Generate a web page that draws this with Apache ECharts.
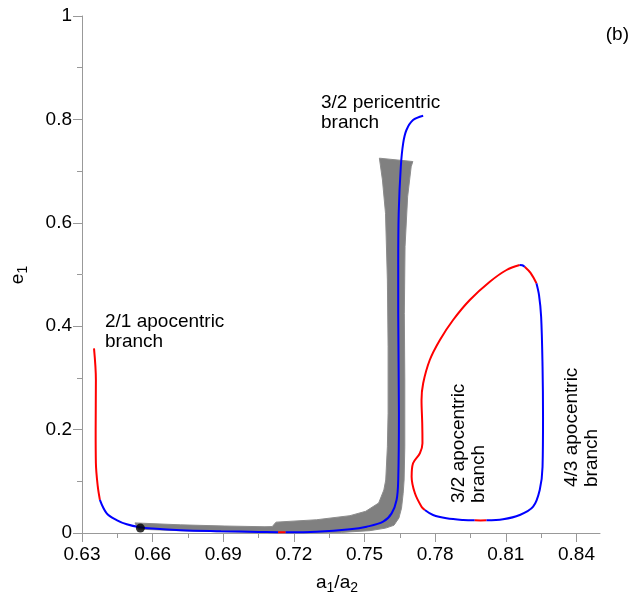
<!DOCTYPE html>
<html>
<head>
<meta charset="utf-8">
<script src="https://cdn.jsdelivr.net/npm/echarts@6/dist/echarts.min.js"></script>
<style>
  html, body { margin: 0; padding: 0; background: #fff; }
  #chart { width: 630px; height: 600px; }
</style>
</head>
<body>
<div id="chart"></div>
<script>
// tick values
const xMajorTicks = [0.63, 0.66, 0.69, 0.72, 0.75, 0.78, 0.81, 0.84];
const xMinorTicks = [0.645, 0.675, 0.705, 0.735, 0.765, 0.795, 0.825];

// 2/1 apocentric branch, red part
const branch21Red = [
  [0.6351, 0.357], [0.6359, 0.296], [0.6358, 0.199], [0.6359, 0.135],
  [0.6367, 0.090], [0.6376, 0.064]
];
// bottom blue part running to the 3/2 pericentric branch
const bottomBlueA = [
  [0.6376, 0.064], [0.6405, 0.038], [0.6447, 0.025], [0.649, 0.0168],
  [0.6546, 0.011], [0.66, 0.0085], [0.672, 0.0055], [0.689, 0.0035],
  [0.705, 0.002], [0.7133, 0.0015]
];
const bottomRed = [[0.7133, 0.0015], [0.7149, 0.0014], [0.7165, 0.0014]];
const pericentric32 = [
  [0.7165, 0.0014], [0.7296, 0.0025], [0.7438, 0.0072], [0.7509, 0.0122],
  [0.7579, 0.0219], [0.7615, 0.038], [0.7636, 0.0638], [0.7643, 0.1025],
  [0.7646, 0.232], [0.7643, 0.425], [0.7643, 0.52], [0.7645, 0.618],
  [0.7654, 0.7085], [0.7664, 0.7537], [0.7678, 0.7795], [0.7706, 0.7988],
  [0.7749, 0.8072]
];

// 3/2 and 4/3 apocentric loop
const loopRedLeft = [
  [0.8159, 0.5184], [0.8103, 0.5087], [0.8032, 0.486], [0.7947, 0.4507],
  [0.7876, 0.412], [0.782, 0.3733], [0.7777, 0.3346], [0.7749, 0.2896],
  [0.7742, 0.2573], [0.7745, 0.2122], [0.7746, 0.1735], [0.7735, 0.1542],
  [0.7706, 0.1348], [0.77, 0.1089], [0.7714, 0.0768], [0.7742, 0.0509],
  [0.7756, 0.0445]
];
const loopBlueBottom = [
  [0.7756, 0.0445], [0.7791, 0.0348], [0.7848, 0.0284], [0.7919, 0.0251],
  [0.7968, 0.0245]
];
const loopRedBottom = [[0.7968, 0.0245], [0.7993, 0.0243], [0.8018, 0.0245]];
const loopBlueRight = [
  [0.8018, 0.0245], [0.8088, 0.0265], [0.8159, 0.0348], [0.8216, 0.0509],
  [0.8244, 0.0832], [0.8256, 0.1283], [0.8258, 0.225], [0.8256, 0.3217],
  [0.8250, 0.4184], [0.8241, 0.46], [0.8230, 0.483]
];
const loopRedTop = [[0.8230, 0.483], [0.8205, 0.503], [0.8180, 0.515]];
const loopBlueTop = [[0.8180, 0.515], [0.8170, 0.5178], [0.8159, 0.5184]];

// grey band of numerical results (outline)
const bandOutline = [
  [0.6525, 0.0195], [0.6719, 0.0158], [0.6907, 0.0135], [0.7077, 0.0121],
  [0.7108, 0.0124], [0.7124, 0.0210], [0.7296, 0.0256], [0.7438, 0.0335],
  [0.7505, 0.0420], [0.7560, 0.0580], [0.7582, 0.0832], [0.7590, 0.1025],
  [0.7597, 0.1669], [0.7600, 0.2315], [0.7600, 0.3604], [0.7597, 0.4894],
  [0.7589, 0.6184], [0.7576, 0.6828], [0.7563, 0.7250], [0.7705, 0.7185],
  [0.7698, 0.7085], [0.7683, 0.6505], [0.7672, 0.5538], [0.7669, 0.4250],
  [0.7671, 0.2959], [0.7671, 0.1669], [0.7668, 0.1025], [0.7664, 0.0768],
  [0.7657, 0.0480], [0.7646, 0.0290], [0.7625, 0.0150], [0.7590, 0.0095],
  [0.7522, 0.0045], [0.7402, 0.0012], [0.7231, 0.0002], [0.7077, 0.0007],
  [0.6907, 0.0022], [0.6719, 0.0044], [0.6539, 0.0074]
];

const startPoint = [[0.6548, 0.0095]];

const BLUE = "#0000ff";
const RED = "#ff0000";
const AXIS = "#999999";
const FONT = "'Liberation Sans', Arial, sans-serif";

const chart = echarts.init(document.getElementById("chart"), null, { renderer: "canvas" });

const seg = (data, color) => ({
  type: "line",
  data: data,
  showSymbol: false,
  smooth: 0.35,
  z: 3,
  lineStyle: { color: color, width: 2 },
  emphasis: { disabled: true },
});

const text = (x, y, str, extra) => Object.assign({
  type: "text",
  x: x,
  y: y,
  style: Object.assign({
    text: str,
    font: "19px " + FONT,
    fill: "#000",
    lineHeight: 20,
  }, extra && extra.style),
}, extra && extra.el);

const option = {
  animation: false,
  backgroundColor: "#fff",
  grid: { left: 82, right: 30, top: 16, bottom: 67 },
  xAxis: [
    {
      type: "value",
      min: 0.63,
      max: 0.85,
      interval: 0.03,
      splitLine: { show: false },
      axisLine: { lineStyle: { color: AXIS, width: 1 } },
      axisTick: { customValues: xMajorTicks, length: 9, lineStyle: { color: AXIS } },
      axisLabel: {
        customValues: xMajorTicks,
        margin: 12,
        color: "#000",
        fontSize: 19,
        fontFamily: FONT,
        formatter: (v) => v.toFixed(2),
      },
    },
    {
      type: "value",
      min: 0.63,
      max: 0.85,
      position: "bottom",
      splitLine: { show: false },
      axisLine: { show: false },
      axisLabel: { show: false },
      axisTick: { customValues: xMinorTicks, length: 5, lineStyle: { color: AXIS } },
    },
  ],
  yAxis: {
    type: "value",
    min: 0,
    max: 1,
    interval: 0.2,
    splitLine: { show: false },
    axisLine: { show: true, lineStyle: { color: AXIS, width: 1 } },
    axisTick: { show: true, length: 9, lineStyle: { color: AXIS } },
    minorTick: { show: true, splitNumber: 2, length: 5, lineStyle: { color: AXIS } },
    axisLabel: {
      margin: 10,
      color: "#000",
      fontSize: 19,
      fontFamily: FONT,
      formatter: (v) => (v === 0 || v === 1 ? String(v) : v.toFixed(1)),
    },
  },
  series: [
    {
      type: "custom",
      z: 2,
      silent: true,
      data: [[0.76, 0.3]],
      renderItem: (params, api) => ({
        type: "polygon",
        shape: { points: bandOutline.map((p) => api.coord(p)) },
        style: { fill: "#808080", stroke: "#8c8c8c", lineWidth: 1 },
      }),
    },
    seg(branch21Red, RED),
    seg(bottomBlueA, BLUE),
    seg(bottomRed, RED),
    seg(pericentric32, BLUE),
    seg(loopRedLeft, RED),
    seg(loopBlueBottom, BLUE),
    seg(loopRedBottom, RED),
    seg(loopBlueRight, BLUE),
    seg(loopRedTop, RED),
    seg(loopBlueTop, BLUE),
    {
      type: "scatter",
      data: startPoint,
      symbolSize: 9,
      z: 4,
      itemStyle: { color: "#000" },
    },
  ],
  graphic: [
    text(321, 93, "3/2 pericentric\nbranch"),
    text(105, 312, "2/1 apocentric\nbranch"),
    text(449, 503, "3/2 apocentric\nbranch", { el: { rotation: Math.PI / 2 } }),
    text(562, 487, "4/3 apocentric\nbranch", { el: { rotation: Math.PI / 2 } }),
    text(629, 35, "(b)", { style: { align: "right", verticalAlign: "middle" } }),
    {
      type: "text",
      x: 18,
      y: 275,
      rotation: Math.PI / 2,
      style: {
        text: "{m|e}{s|1}",
        align: "center",
        verticalAlign: "middle",
        rich: {
          m: { font: "19px " + FONT, fill: "#000" },
          s: { font: "14px " + FONT, fill: "#000", padding: [10, 0, 0, 0] },
        },
      },
    },
    {
      type: "text",
      x: 337,
      y: 583,
      style: {
        text: "{m|a}{s|1}{m|/a}{s|2}",
        align: "center",
        verticalAlign: "middle",
        rich: {
          m: { font: "19px " + FONT, fill: "#000" },
          s: { font: "14px " + FONT, fill: "#000", padding: [10, 0, 0, 0] },
        },
      },
    },
  ],
};

chart.setOption(option);
</script>
</body>
</html>
